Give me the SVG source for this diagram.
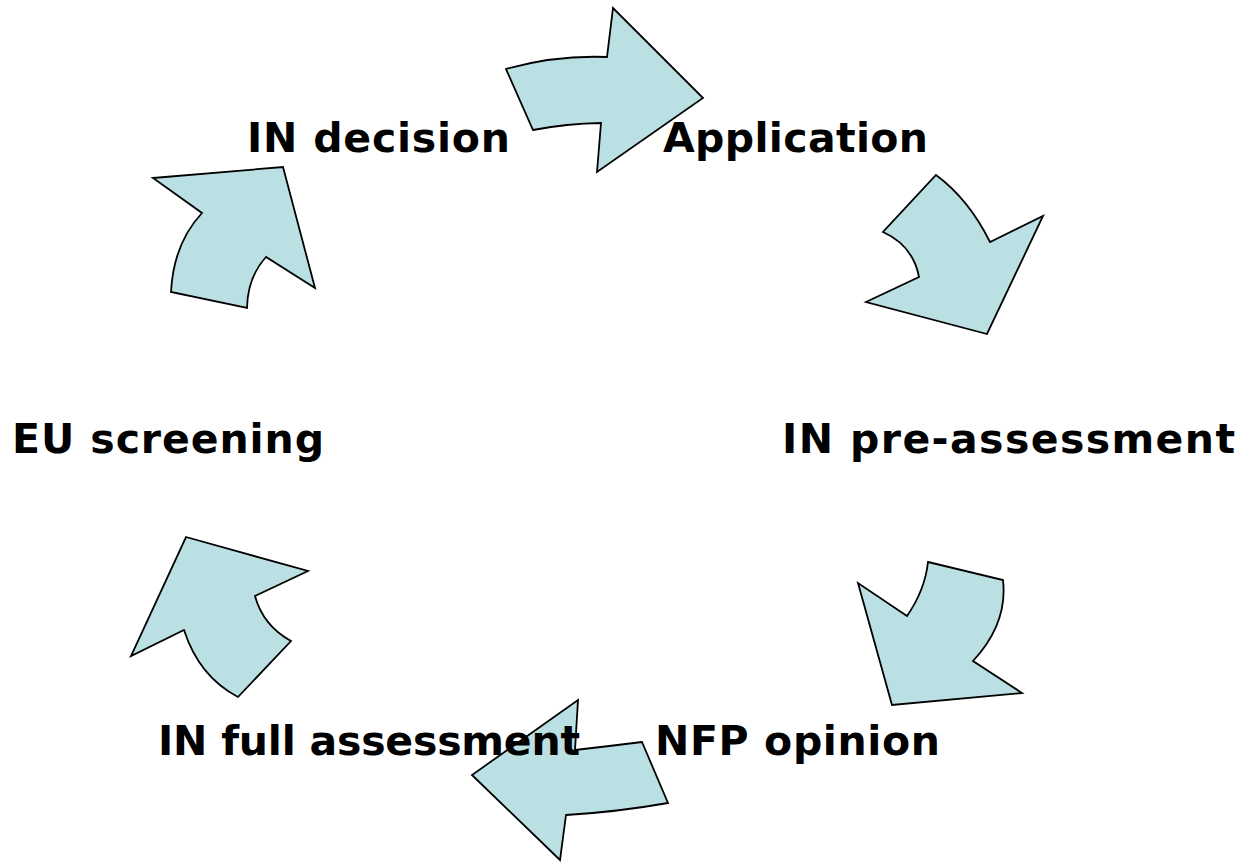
<svg xmlns="http://www.w3.org/2000/svg" width="1238" height="862" viewBox="0 0 1238 862">
<style>
.arr{fill:#BBE0E3;stroke:#000;stroke-width:1.8;stroke-linejoin:miter}
.lbl{font-family:"DejaVu Sans","Verdana",sans-serif;font-weight:bold;font-size:41px;fill:#000}
</style>
<rect width="1238" height="862" fill="#fff"/>
<g id="connectors">
<path class="arr" d="M506,69 Q555.5,55 607,57 L613,8 L703,98 L597,172 L601,123 Q567,123.5 533,130 Z"/>
<path class="arr" d="M936,175 Q969,199.5 990,242 L1043,216 L987,334 L866,302 L919,277 Q913,245.5 883,232 Z"/>
<path class="arr" d="M928,562 L1003,580 Q1008,623.5 973,661 L1022,693 L892,705 L858,583 L907,616 Q925,590 928,562 Z"/>
<path class="arr" d="M642,742 L668,803 Q617,812 566,815 L560,860 L472,775 L578,700 L575,750 Q610,746 642,742 Z"/>
<path class="arr" d="M186,537 L308,571 L255,596 Q263,625.5 291,641 L238,697 Q199,676.5 184,630 L131,656 Z"/>
<path class="arr" d="M153,178 L283,167 L315,288 L266,257 Q247.5,277.5 247,308 L171,292 Q173.5,243.5 202,213 Z"/>
</g>
<g id="node-in-decision"><text class="lbl" x="247" y="152" textLength="263" lengthAdjust="spacing">IN decision</text></g>
<g id="node-application"><text class="lbl" x="663" y="152" textLength="265" lengthAdjust="spacing">Application</text></g>
<g id="node-eu-screening"><text class="lbl" x="12" y="453" textLength="312" lengthAdjust="spacing">EU screening</text></g>
<g id="node-in-pre-assessment"><text class="lbl" x="782" y="453" textLength="453" lengthAdjust="spacing">IN pre-assessment</text></g>
<g id="node-in-full-assessment"><text class="lbl" x="158" y="755" textLength="422" lengthAdjust="spacing">IN full assessment</text></g>
<g id="node-nfp-opinion"><text class="lbl" x="655" y="755" textLength="285" lengthAdjust="spacing">NFP opinion</text></g>
</svg>
